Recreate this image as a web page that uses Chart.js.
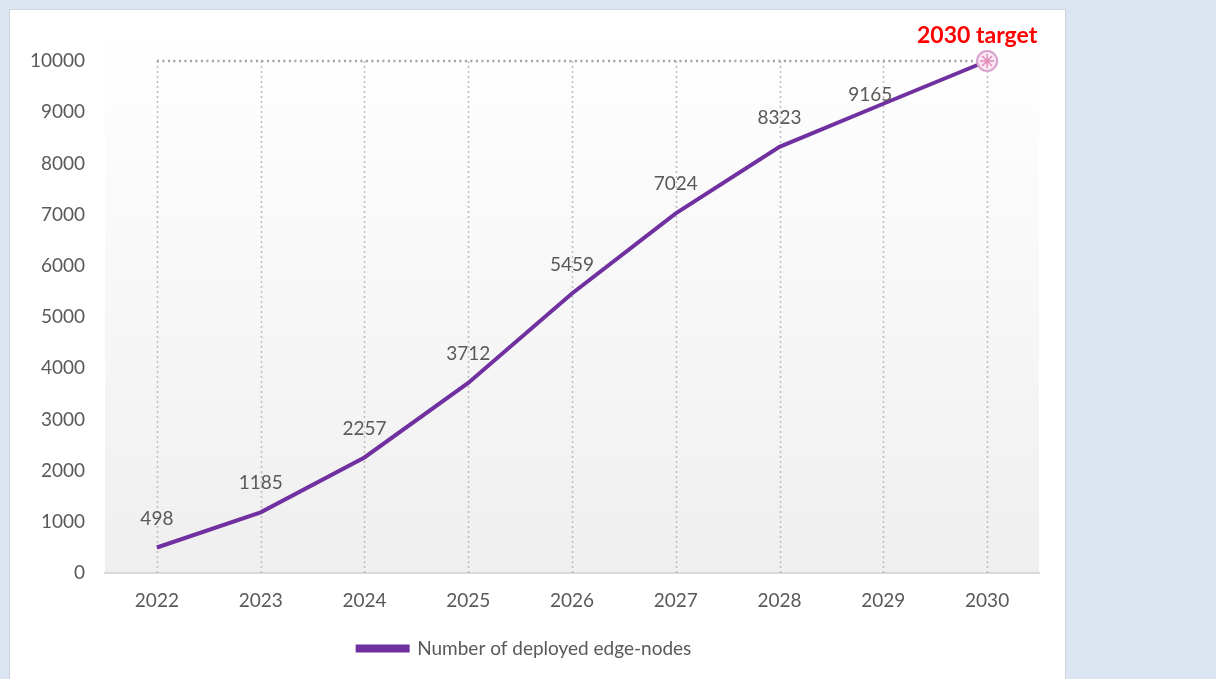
<!DOCTYPE html>
<html>
<head>
<meta charset="utf-8">
<script src="https://cdn.jsdelivr.net/npm/chart.js@4.4.1/dist/chart.umd.min.js"></script>
<style>
  html, body { margin: 0; padding: 0; background: #dce6f2; width: 1216px; height: 679px; overflow: hidden; }
  #panel { position: absolute; left: 9px; top: 9px; width: 1055px; height: 680px; background: #fff; border: 1px solid #cfd3d8; border-bottom: none; }
  #wrap { position: absolute; left: 0; top: 0; width: 1055px; height: 670px; }
</style>
</head>
<body>
<div id="panel"><div id="wrap"><canvas id="edgeChart"></canvas></div></div>
<script>
// données
const years = ['2022', '2023', '2024', '2025', '2026', '2027', '2028', '2029', '2030'];
const edgeNodes = [498, 1185, 2257, 3712, 5459, 7024, 8323, 9165, 10000];
const targetLine = [10000, 10000, 10000, 10000, 10000, 10000, 10000, 10000, 10000];
const targetPoint = [null, null, null, null, null, null, null, null, 10000];
const yTicks = [0, 1000, 2000, 3000, 4000, 5000, 6000, 7000, 8000, 9000, 10000];
const targetLabel = '2030 target';

const FONT = 'Lato, "Open Sans", sans-serif';

// fond dégradé de la zone de tracé
const plotBackground = {
    id: 'plotBackground',
    beforeDraw(chart) {
        const { ctx, chartArea: a } = chart;
        const g = ctx.createLinearGradient(0, a.top - 30, 0, a.bottom);
        g.addColorStop(0, '#ffffff');
        g.addColorStop(1, '#efefef');
        ctx.save();
        ctx.fillStyle = g;
        ctx.fillRect(a.left, a.top - 30, a.right - a.left, a.bottom - a.top + 30);
        ctx.restore();
    }
};

// étiquettes de valeurs + texte de l'objectif
const valueLabels = {
    id: 'valueLabels',
    afterDatasetsDraw(chart) {
        const { ctx } = chart;
        const meta = chart.getDatasetMeta(0);
        ctx.save();
        ctx.font = '19px ' + FONT;
        ctx.fillStyle = '#595959';
        ctx.textAlign = 'center';
        ctx.textBaseline = 'middle';
        meta.data.forEach((pt, i) => {
            if (i === edgeNodes.length - 1) return;
            // 9165 est décalé pour ne pas toucher la cible
            const dx = i === 7 ? -13 : 0;
            const dy = i === 7 ? -9 : -29;
            ctx.fillText(String(edgeNodes[i]), pt.x + dx, pt.y + dy);
        });
        const tp = chart.getDatasetMeta(2).data[8];
        ctx.font = 'bold 23px ' + FONT;
        ctx.fillStyle = '#ff0000';
        ctx.fillText(targetLabel, tp.x - 10, tp.y - 25);
        ctx.restore();
    }
};

const ctxEdge = document.getElementById('edgeChart').getContext('2d');
const edgeChart = new Chart(ctxEdge, {
    type: 'line',
    data: {
        labels: years,
        datasets: [{
            label: 'Number of deployed edge-nodes',
            data: edgeNodes,
            borderColor: '#7030a0',
            backgroundColor: '#7030a0',
            borderWidth: 4,
            pointRadius: 0,
            tension: 0,
            clip: false,
            order: 2
        }, {
            label: 'target-line',
            data: targetLine,
            borderColor: '#a0a0a0',
            borderWidth: 2.5,
            borderDash: [2, 3.5],
            pointRadius: 0,
            clip: false,
            order: 3
        }, {
            label: 'target',
            data: targetPoint,
            pointStyle: 'circle',
            pointRadius: 10,
            pointBackgroundColor: 'rgba(248, 232, 244, 0.97)',
            pointBorderColor: '#d9a3cf',
            pointBorderWidth: 2,
            showLine: false,
            clip: false,
            order: 1
        }, {
            label: 'target-star',
            data: targetPoint,
            pointStyle: 'star',
            pointRadius: 7,
            pointBorderColor: '#e48bb8',
            pointBorderWidth: 1.5,
            showLine: false,
            clip: false,
            order: 0
        }]
    },
    options: {
        responsive: true,
        maintainAspectRatio: false,
        animation: false,
        layout: { padding: { top: 51, right: 26, bottom: 12, left: 0 } },
        plugins: {
            legend: {
                position: 'bottom',
                labels: {
                    filter: (item) => item.datasetIndex === 0,
                    boxWidth: 50,
                    boxHeight: 4,
                    color: '#595959',
                    font: { family: FONT, size: 19 },
                    padding: 14
                }
            },
            tooltip: { enabled: false }
        },
        scales: {
            x: {
                offset: true,
                grid: { display: false, drawTicks: false },
                border: { color: '#d9d9d9', width: 2 },
                ticks: {
                    color: '#595959',
                    font: { family: FONT, size: 19 },
                    padding: 16,
                    maxRotation: 0
                },
                afterFit(scale) { scale.height = 52; }
            },
            y: {
                min: 0,
                max: 10000,
                afterBuildTicks(scale) { scale.ticks = yTicks.map(v => ({ value: v })); },
                grid: { display: false, drawTicks: false },
                border: { display: false },
                ticks: {
                    color: '#595959',
                    font: { family: FONT, size: 19 },
                    padding: 20,
                    callback: (v) => String(v)
                },
                afterFit(scale) { scale.width = 95; }
            }
        }
    },
    plugins: [plotBackground, valueLabels, {
        id: 'dottedGrid',
        beforeDatasetsDraw(chart) {
            // lignes verticales pointillées du haut (10000) jusqu'à l'axe
            const { ctx, scales: { x, y } } = chart;
            ctx.save();
            ctx.strokeStyle = '#bdbdbd';
            ctx.lineWidth = 1.5;
            ctx.setLineDash([2, 3]);
            years.forEach((yr, i) => {
                const px = Math.round(x.getPixelForValue(i)) + 0.5;
                ctx.beginPath();
                ctx.moveTo(px, y.getPixelForValue(10000));
                ctx.lineTo(px, y.getPixelForValue(0));
                ctx.stroke();
            });
            ctx.restore();
        }
    }]
});
</script>
</body>
</html>
